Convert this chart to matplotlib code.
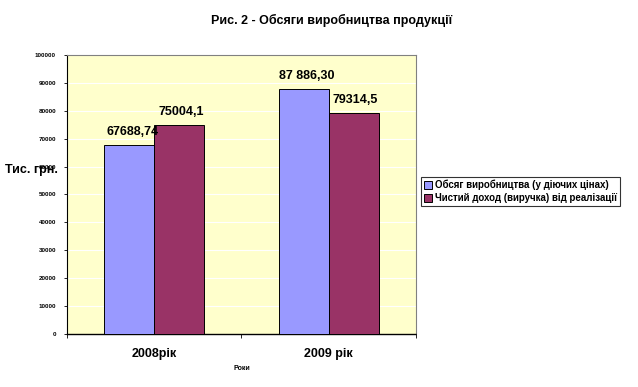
import matplotlib
matplotlib.use("Agg")
import matplotlib.pyplot as plt
import numpy as np

years = ["2008рік", "2009 рік"]
production = [67688.74, 87886.30]
revenue = [75004.1, 79314.5]
production_labels = ["67688,74", "87 886,30"]
revenue_labels = ["75004,1", "79314,5"]
series_names = ["Обсяг виробництва (у діючих цінах)",
                "Чистий доход (виручка) від реалізації"]
yticks = list(range(0, 100001, 10000))

plt.rcParams["font.family"] = ["Liberation Sans Narrow", "Liberation Sans", "DejaVu Sans"]
plt.rcParams["font.weight"] = "bold"

fig = plt.figure(figsize=(6.38, 3.87), dpi=100)
ax = fig.add_axes([0.105, 0.137, 0.547, 0.721])
ax.set_facecolor("#FFFFCC")

x = np.arange(len(years))
w = 0.287
b1 = ax.bar(x - w / 2, production, w, color="#9999FF", edgecolor="black", linewidth=0.7,
            label=series_names[0], zorder=3)
b2 = ax.bar(x + w / 2, revenue, w, color="#993366", edgecolor="black", linewidth=0.7,
            label=series_names[1], zorder=3)

for xi, v, s in zip(x - w / 2, production, production_labels):
    ax.text(xi + 0.02, v + 2500, s, ha="center", va="bottom", fontsize=9, fontweight="bold")
for xi, v, s in zip(x + w / 2, revenue, revenue_labels):
    ax.text(xi + 0.01, v + 2500, s, ha="center", va="bottom", fontsize=9, fontweight="bold")

ax.set_xlim(-0.5, 1.5)
ax.set_ylim(0, 100000)
ax.set_yticks(yticks)
ax.set_yticklabels([str(t) for t in yticks], fontsize=4.5, fontweight="bold")
ax.set_xticks([-0.5, 0.5, 1.5], minor=False)
ax.set_xticklabels(["", "", ""])
ax.set_xticks(x, minor=True)
ax.set_xticklabels(years, minor=True, fontsize=9, fontweight="bold")
ax.tick_params(axis="x", which="minor", length=0, pad=10)
ax.tick_params(axis="x", which="major", length=3, width=0.6)
ax.tick_params(axis="y", length=2, width=0.6, pad=6)
ax.yaxis.grid(True, color="white", linewidth=0.8, zorder=0)

for side in ["top", "right"]:
    ax.spines[side].set_color("#808080")
    ax.spines[side].set_linewidth(0.8)
ax.spines["left"].set_color("black")
ax.spines["left"].set_linewidth(0.8)
ax.spines["bottom"].set_color("black")
ax.spines["bottom"].set_linewidth(1.0)
ax.spines["bottom"].set_linestyle((0, (1, 1)))

ax.set_xlabel("Роки", fontsize=5, fontweight="bold", labelpad=4)
fig.text(0.008, 0.56, "Тис. грн.", fontsize=9, fontweight="bold", ha="left", va="center")

fig.suptitle("Рис. 2 - Обсяги виробництва продукції", x=0.52, y=0.965,
             fontsize=9, fontweight="bold")

leg = fig.legend(handles=[b1, b2], loc="center left", bbox_to_anchor=(0.66, 0.505),
                 fontsize=7, frameon=True, fancybox=False, edgecolor="black",
                 handlelength=0.8, handleheight=0.8, handletextpad=0.3,
                 borderpad=0.3, labelspacing=0.3, borderaxespad=0)
leg.get_frame().set_linewidth(0.8)
for t in leg.get_texts():
    t.set_fontweight("bold")

fig.savefig("out.png", dpi=100)
